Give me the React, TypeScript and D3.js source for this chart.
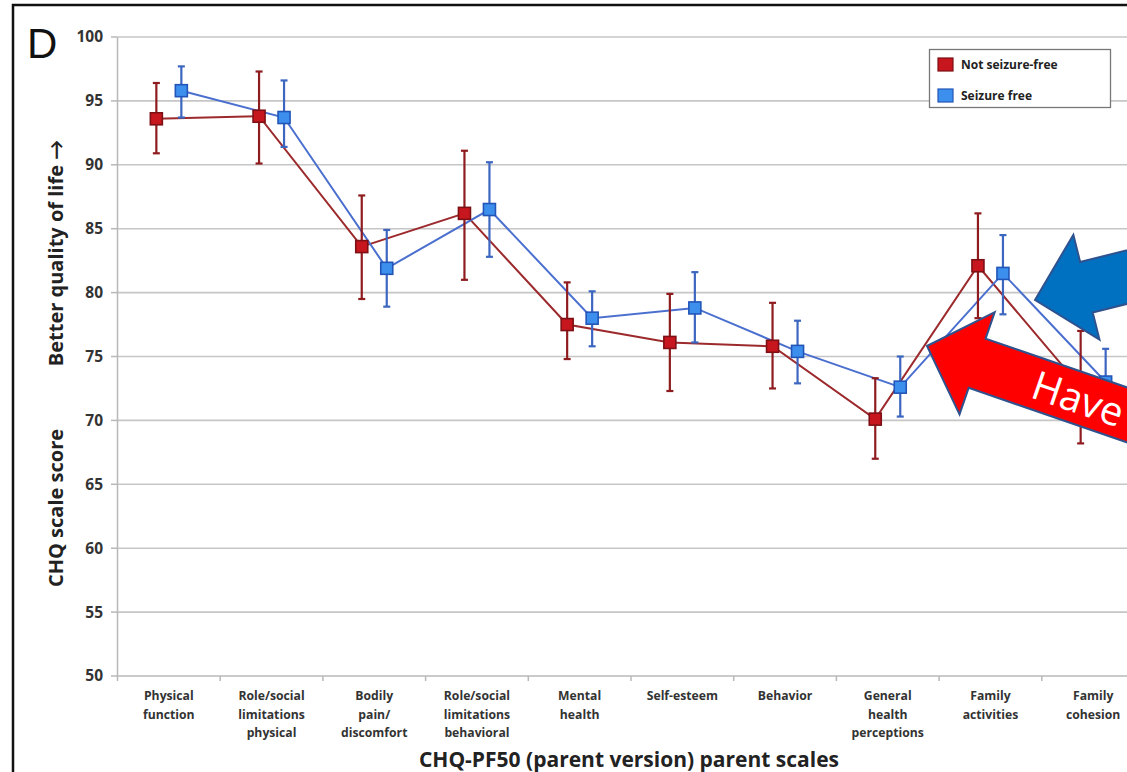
import React, { useEffect } from 'react';
import * as d3 from 'd3';

const categories = [
  'Physical function', 'Role/social limitations physical', 'Bodily pain/ discomfort',
  'Role/social limitations behavioral', 'Mental health', 'Self-esteem', 'Behavior',
  'General health perceptions', 'Family activities', 'Family cohesion',
];
const categoryLines = [
  ['Physical', 'function'],
  ['Role/social', 'limitations', 'physical'],
  ['Bodily', 'pain/', 'discomfort'],
  ['Role/social', 'limitations', 'behavioral'],
  ['Mental', 'health'],
  ['Self-esteem'],
  ['Behavior'],
  ['General', 'health', 'perceptions'],
  ['Family', 'activities'],
  ['Family', 'cohesion'],
];

const notFreeMean = [93.6, 93.8, 83.6, 86.2, 77.5, 76.1, 75.8, 70.1, 82.1, 72.6];
const notFreeLow = [90.9, 90.1, 79.5, 81.0, 74.8, 72.3, 72.5, 67.0, 78.0, 68.2];
const notFreeHigh = [96.4, 97.3, 87.6, 91.1, 80.8, 79.9, 79.2, 73.3, 86.2, 77.0];

const freeMean = [95.8, 93.7, 81.9, 86.5, 78.0, 78.8, 75.4, 72.6, 81.5, 73.0];
const freeLow = [93.7, 91.4, 78.9, 82.8, 75.8, 76.1, 72.9, 70.3, 78.3, 70.4];
const freeHigh = [97.7, 96.6, 84.9, 90.2, 80.1, 81.6, 77.8, 75.0, 84.5, 75.6];

const yTicks = [50, 55, 60, 65, 70, 75, 80, 85, 90, 95, 100];

const W = 1127;
const H = 772;
const FONT = '"Open Sans", Lato, sans-serif';

const series = [
  { name: 'Not seizure-free', mean: notFreeMean, low: notFreeLow, high: notFreeHigh, offset: -12.5,
    line: '#9c2a2c', bar: '#8e1c1f', fill: '#c8161e', stroke: '#7d1014' },
  { name: 'Seizure free', mean: freeMean, low: freeLow, high: freeHigh, offset: 12.5,
    line: '#4a6fcf', bar: '#3c66c0', fill: '#3d8fee', stroke: '#2255b8' },
];

// block arrow pointing left in local coords, tip at origin
const arrowPath = (len: number) =>
  `M0,0 L53,-54 L53,-26 L${len},-26 L${len},26 L53,26 L53,54 Z`;

export default function App() {
  useEffect(() => {
    document.body.style.margin = '0';
  }, []);

  const x = d3.scaleBand<string>().domain(categories).range([117.5, 117.5 + 10 * 102.7]);
  const y = d3.scaleLinear().domain([50, 100]).range([676, 37]);
  const cx = (i: number) => (x(categories[i]) as number) + x.bandwidth() / 2;

  return (
    <svg width={W} height={H} style={{ display: 'block', background: '#fff' }} fontFamily={FONT}>
      {/* frame */}
      <path d={`M13,${H + 5} L13,5 L${W + 5},5`} fill="none" stroke="#111" strokeWidth={2.5} />
      <text x={27} y={58} fontSize={42} fill="#111" fontFamily='"Liberation Sans", Arial, sans-serif'>D</text>

      {/* grid */}
      {yTicks.filter(t => t > 50).map(t => (
        <line key={t} x1={117.5} x2={W} y1={y(t)} y2={y(t)} stroke="#c6c6c6" strokeWidth={1.6} />
      ))}
      {/* axes */}
      <line x1={117.5} x2={117.5} y1={y(100)} y2={y(50)} stroke="#b8b8b8" strokeWidth={1.5} />
      <line x1={117.5} x2={W} y1={y(50)} y2={y(50)} stroke="#b8b8b8" strokeWidth={1.5} />
      {yTicks.map(t => (
        <g key={t}>
          <line x1={111} x2={117.5} y1={y(t)} y2={y(t)} stroke="#b8b8b8" strokeWidth={1.5} />
          <text x={103} y={y(t)} dy="0.35em" textAnchor="end" fontSize={15.5} fontWeight="bold" fill="#333">{t}</text>
        </g>
      ))}
      {categories.map((c, i) => (
        <line key={c} x1={x(c)} x2={x(c)} y1={y(50)} y2={y(50) + 5} stroke="#b8b8b8" strokeWidth={1.5} />
      ))}
      {categoryLines.map((lines, i) => (
        <text key={i} textAnchor="middle" fontSize={12.2} fontWeight="bold" fill="#333">
          {lines.map((l, j) => (
            <tspan key={j} x={cx(i)} y={700 + j * 18.5}>{l}</tspan>
          ))}
        </text>
      ))}

      {/* axis titles */}
      <text x={629} y={767} textAnchor="middle" fontSize={21} fontWeight="bold" fill="#222">
        CHQ-PF50 (parent version) parent scales
      </text>
      <text transform="translate(63,508) rotate(-90)" textAnchor="middle" fontSize={20} fontWeight="bold" fill="#222">
        CHQ  scale score
      </text>
      <text transform="translate(63,253) rotate(-90)" textAnchor="middle" fontSize={20} fontWeight="bold" fill="#222">
        {'Better quality of life  \u2192'}
      </text>

      {/* series lines */}
      {series.map(s => (
        <path key={s.name + 'l'} fill="none" stroke={s.line} strokeWidth={2}
          d={d3.line<number>().x((_, i) => cx(i) + s.offset).y(v => y(v))(s.mean) || ''} />
      ))}
      {/* error bars + markers */}
      {series.map(s => (
        <g key={s.name + 'e'}>
          {s.mean.map((m, i) => {
            const px = cx(i) + s.offset;
            return (
              <g key={i}>
                <line x1={px} x2={px} y1={y(s.high[i])} y2={y(s.low[i])} stroke={s.bar} strokeWidth={2.2} />
                <line x1={px - 3.5} x2={px + 3.5} y1={y(s.high[i])} y2={y(s.high[i])} stroke={s.bar} strokeWidth={2.2} />
                <line x1={px - 3.5} x2={px + 3.5} y1={y(s.low[i])} y2={y(s.low[i])} stroke={s.bar} strokeWidth={2.2} />
                <rect x={px - 6} y={y(m) - 6} width={12} height={12} fill={s.fill} stroke={s.stroke} strokeWidth={1.6} />
              </g>
            );
          })}
        </g>
      ))}

      {/* legend */}
      <rect x={929.5} y={49.5} width={181} height={58} fill="#fff" stroke="#777" strokeWidth={1.3} />
      {series.map((s, i) => (
        <g key={s.name + 'g'} transform={`translate(938,${58 + i * 31})`}>
          <rect width={15} height={13} fill={s.fill} stroke={s.stroke} strokeWidth={1.2} />
          <text x={23} y={7} dy="0.35em" fontSize={12} fontWeight="bold" fill="#222">{s.name}</text>
        </g>
      ))}

      {/* annotation arrows */}
      <g transform="translate(1035,300) rotate(-14)">
        <path d={arrowPath(300)} fill="#0070c0" stroke="#2f528f" strokeWidth={2} />
      </g>
      <g transform="translate(927,346) rotate(19)">
        <path d={arrowPath(320)} fill="#ff0000" stroke="#2f528f" strokeWidth={2} />
        <text x={113} y={15} fontSize={40} fill="#fff" fontFamily='"Open Sans", Lato, sans-serif'>Have</text>
      </g>
    </svg>
  );
}
